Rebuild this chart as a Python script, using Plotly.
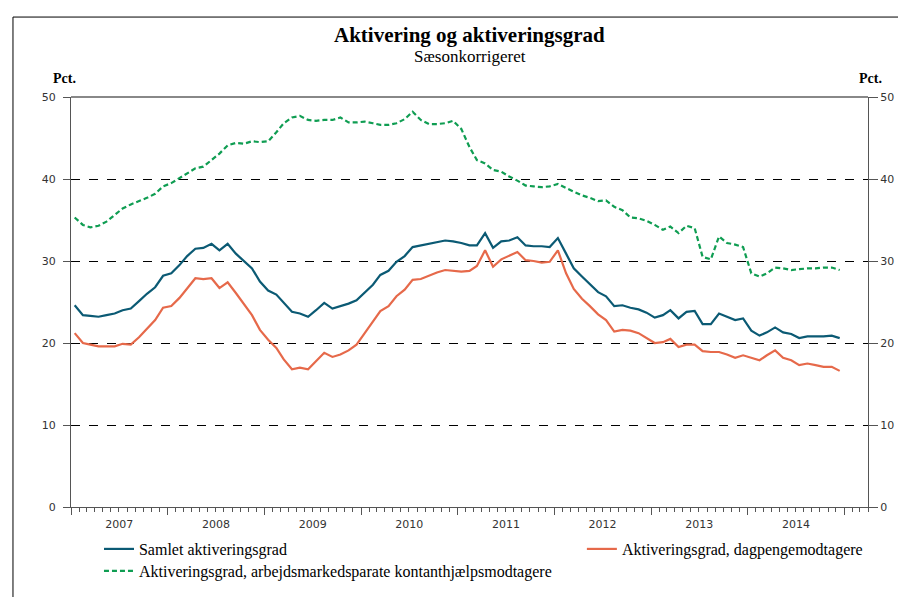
import pandas as pd
import plotly.graph_objects as go

# Monthly data, Jan 2007 - Dec 2014 (pct., seasonally adjusted)
months = pd.date_range("2007-01-01", periods=96, freq="MS") + pd.Timedelta(days=14)

samlet = [24.6, 23.4, 23.3, 23.2, 23.4, 23.6, 24.0, 24.2, 25.1, 26.0, 26.8, 28.2,
          28.5, 29.5, 30.6, 31.5, 31.6, 32.1, 31.3, 32.1, 30.9, 30.0, 29.1, 27.5,
          26.4, 25.9, 24.9, 23.8, 23.6, 23.2, 24.0, 24.9, 24.2, 24.5, 24.8, 25.2,
          26.2, 27.1, 28.3, 28.8, 29.9, 30.6, 31.7, 31.9, 32.1, 32.3, 32.5, 32.4,
          32.2, 31.9, 31.9, 33.4, 31.6, 32.4, 32.5, 32.9, 31.9, 31.8, 31.8, 31.7,
          32.8, 30.9, 29.1, 28.1, 27.2, 26.2, 25.7, 24.5, 24.6, 24.3, 24.1, 23.7,
          23.1, 23.4, 24.0, 23.0, 23.8, 23.9, 22.3, 22.3, 23.6, 23.2, 22.8, 23.0,
          21.5, 20.9, 21.3, 21.9, 21.3, 21.1, 20.6, 20.8, 20.8, 20.8, 20.9, 20.6]

dagpenge = [21.2, 20.0, 19.8, 19.6, 19.6, 19.6, 19.9, 19.8, 20.7, 21.8, 22.8, 24.3,
            24.5, 25.5, 26.7, 27.9, 27.8, 27.9, 26.7, 27.4, 26.1, 24.7, 23.4, 21.6,
            20.4, 19.4, 18.0, 16.8, 17.0, 16.8, 17.8, 18.8, 18.3, 18.6, 19.1, 19.8,
            21.2, 22.6, 23.9, 24.5, 25.7, 26.5, 27.7, 27.8, 28.2, 28.6, 28.9, 28.8,
            28.7, 28.8, 29.4, 31.3, 29.3, 30.2, 30.6, 31.1, 30.1, 30.0, 29.8, 29.9,
            31.3, 28.5, 26.6, 25.4, 24.5, 23.5, 22.8, 21.4, 21.6, 21.5, 21.2, 20.6,
            20.0, 20.1, 20.5, 19.5, 19.8, 19.8, 19.0, 18.9, 18.9, 18.6, 18.2, 18.5,
            18.2, 17.9, 18.5, 19.1, 18.2, 17.9, 17.3, 17.5, 17.3, 17.1, 17.1, 16.6]

kontanthjaelp = [35.3, 34.4, 34.1, 34.3, 34.8, 35.6, 36.4, 36.9, 37.3, 37.7, 38.2, 39.1,
                 39.5, 40.1, 40.7, 41.3, 41.5, 42.3, 43.1, 44.1, 44.4, 44.3, 44.6, 44.5,
                 44.6, 45.7, 46.8, 47.5, 47.7, 47.2, 47.1, 47.2, 47.2, 47.5, 46.9, 46.9,
                 47.0, 46.8, 46.6, 46.6, 46.8, 47.3, 48.2, 47.2, 46.7, 46.7, 46.8, 47.1,
                 46.1, 43.9, 42.3, 41.9, 41.1, 40.9, 40.3, 39.8, 39.2, 39.1, 39.0, 39.1,
                 39.4, 38.9, 38.5, 38.0, 37.7, 37.3, 37.4, 36.6, 36.2, 35.3, 35.2, 34.9,
                 34.4, 33.8, 34.2, 33.4, 34.3, 34.0, 30.5, 30.2, 33.0, 32.2, 32.0, 31.7,
                 28.5, 28.1, 28.5, 29.2, 29.1, 28.9, 29.0, 29.1, 29.1, 29.2, 29.2, 28.9]

serif = "Liberation Serif"
sans = "DejaVu Sans"
axis_col = "#555555"
tick_font = dict(family=sans, size=11, color="#333333")
legend_font = dict(family=serif, size=16, color="black")

fig = go.Figure()

fig.add_trace(go.Scatter(x=months, y=samlet, mode="lines", name="Samlet aktiveringsgrad",
                         line=dict(color="#0b5a74", width=2.2), legend="legend"))
fig.add_trace(go.Scatter(x=months, y=dagpenge, mode="lines", name="Aktiveringsgrad, dagpengemodtagere",
                         line=dict(color="#e6694a", width=2.2), legend="legend2"))
fig.add_trace(go.Scatter(x=months, y=kontanthjaelp, mode="lines",
                         name="Aktiveringsgrad, arbejdsmarkedsparate kontanthjælpsmodtagere",
                         line=dict(color="#0f9d52", width=2.2, dash="5px,3px"), legend="legend3"))
# invisible copy so the right-hand axis is drawn
fig.add_trace(go.Scatter(x=months, y=samlet, yaxis="y2", mode="lines", showlegend=False,
                         hoverinfo="skip", line=dict(width=0, color="rgba(0,0,0,0)")))

fig.update_layout(
    width=906, height=597,
    margin=dict(l=63, r=46, t=89, b=98),
    plot_bgcolor="white", paper_bgcolor="white",
    xaxis=dict(type="date", range=["2007-01-01", "2015-04-01"],
               dtick="M12", tick0="2007-01-01", ticklabelmode="period",
               tickformat="%Y", ticks="outside", ticklen=7, tickcolor=axis_col,
               minor=dict(dtick="M1", ticks="outside", ticklen=4, tickcolor=axis_col, showgrid=False),
               showline=True, linecolor=axis_col, linewidth=1, showgrid=False, zeroline=False,
               ticklabelstandoff=0, tickfont=tick_font),
    yaxis=dict(range=[0, 50], dtick=10, ticks="outside", ticklen=7, tickcolor=axis_col,
               showline=True, linecolor=axis_col, linewidth=1, zeroline=False,
               showgrid=True, gridcolor="black", griddash="dash", gridwidth=1,
               ticklabelstandoff=5, tickfont=tick_font),
    yaxis2=dict(range=[0, 50], dtick=10, overlaying="y", side="right", ticks="outside",
                ticklen=9, tickcolor=axis_col, showline=True, linecolor=axis_col, linewidth=1,
                showgrid=False, zeroline=False, tickfont=tick_font),
    legend=dict(x=0.0351, y=-0.061, xanchor="left", yanchor="top",
                bgcolor="rgba(0,0,0,0)", font=legend_font),
    legend2=dict(x=0.641, y=-0.061, xanchor="left", yanchor="top",
                 bgcolor="rgba(0,0,0,0)", font=legend_font),
    legend3=dict(x=0.0351, y=-0.1146, xanchor="left", yanchor="top",
                 bgcolor="rgba(0,0,0,0)", font=legend_font),
    showlegend=True,
)

# gray top border of the plot area
fig.add_shape(type="line", xref="paper", yref="paper", x0=0, x1=1, y0=1, y1=1,
              line=dict(color="#888888", width=2))
# outer frame
fig.add_shape(type="rect", xref="paper", yref="paper", x0=-0.0728, x1=1.2, y0=-0.4, y1=1.195,
              line=dict(color="black", width=1))

fig.add_annotation(text="<b>Aktivering og aktiveringsgrad</b>", xref="paper", yref="paper",
                   x=0.5005, y=1.151, showarrow=False, yanchor="middle",
                   font=dict(family=serif, size=21, color="black"))
fig.add_annotation(text="Sæsonkorrigeret", xref="paper", yref="paper",
                   x=0.5005, y=1.0976, showarrow=False, yanchor="middle",
                   font=dict(family=serif, size=17, color="black"))
fig.add_annotation(text="<b>Pct.</b>", xref="paper", yref="paper", x=-0.0251, y=1.046,
                   showarrow=False, yanchor="middle", font=dict(family=serif, size=14, color="black"))
fig.add_annotation(text="<b>Pct.</b>", xref="paper", yref="paper", x=1.020, y=1.046,
                   showarrow=False, yanchor="middle", font=dict(family=serif, size=14, color="black"))

fig.write_html("out.html")
